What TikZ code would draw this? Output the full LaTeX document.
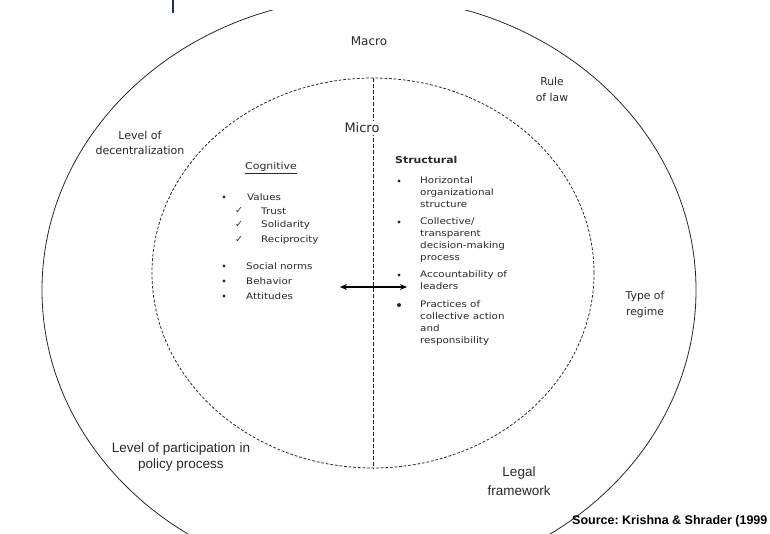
\documentclass[tikz,border=0pt]{standalone}
\usepackage{fontspec}
\setmainfont{Liberation Sans}
\newfontfamily\dvs{DejaVu Sans}
\newfontfamily\dvw[FakeStretch=1.15]{DejaVu Sans}
\usetikzlibrary{arrows.meta,shapes.geometric}
\definecolor{inkgray}{RGB}{40,40,40}
\definecolor{titleblue}{RGB}{25,50,100}
\frenchspacing

\begin{document}
\begin{tikzpicture}[x=1pt,y=-1pt,
  ring/.style={draw=inkgray,ellipse,inner sep=0pt,line width=0.8pt},
  lbl/.style={font=\dvs\fontsize{10.8}{16}\selectfont,align=center,text=inkgray},
  narrowlbl/.style={font=\fontsize{13.5}{16}\selectfont,align=center,text=inkgray},
  head/.style={font=\dvw\fontsize{9.5}{11}\selectfont,anchor=west,text=inkgray,inner sep=0pt},
  item/.style={font=\dvw\fontsize{9}{12}\selectfont,anchor=west,align=left,text=inkgray,inner sep=0pt},
  multi/.style={item,anchor=north west},
  dot/.style={circle,fill=inkgray,inner sep=0pt,minimum size=3.4pt},
  tick/.style={font=\dvs\fontsize{9.5}{10}\selectfont,text=inkgray,inner sep=0pt},
  dbl/.style={{Stealth[length=7pt,width=6pt]}-{Stealth[length=7pt,width=6pt]},line width=1.3pt,black},
]
\useasboundingbox (0,0) rectangle (770,534);

% title fragment
\draw[titleblue,line width=2.6pt] (173,0) -- (173,13);

% Rings
\begin{scope}
  \clip (0,11) rectangle (770,534);
  \node[ring,minimum width=654pt,minimum height=586pt] (macro) at (369,290) {};
\end{scope}
\node[ring,dashed,dash pattern=on 2.8pt off 1.8pt,minimum width=442pt,minimum height=390pt] (micro) at (373,273) {};
\draw[inkgray,line width=0.6pt,dash pattern=on 4pt off 2pt] (micro.north) -- (micro.south);

% Macro labels
\node[lbl,font=\dvs\fontsize{12}{14}\selectfont] (macrot) at (369,41) {Macro};
\node[lbl] (rule)  at (552,89)  {Rule\\of law};
\node[lbl,font=\dvs\fontsize{11}{15}\selectfont] (decen) at (140,143) {Level of\\decentralization};
\node[lbl] (regim) at (645,305) {Type of\\regime};
\node[narrowlbl] (partic) at (181,457) {Level of participation in\\policy process};
\node[narrowlbl,font=\fontsize{13.5}{19}\selectfont] (legal) at (519,481) {Legal\\framework};
\node[anchor=west,inner sep=0pt,font=\bfseries\fontsize{12.5}{14}\selectfont] (src) at (572,521)
  {Source: Krishna \& Shrader (1999};

% Micro
\node[lbl,font=\dvs\fontsize{13}{15}\selectfont,fill=white,inner sep=2pt] (microt) at (362,128) {Micro};

% Cognitive
\node[head] (cog) at (245,168) {\underline{Cognitive}};
\node[dot] (c1) at (224,197) {};
\node[item] (val) at (247,197) {Values};
\node[tick] (k1) at (239,211) {✓};
\node[tick] (k2) at (239,225) {✓};
\node[tick] (k3) at (239,240) {✓};
\node[item] (tru) at (261,211) {Trust};
\node[item] (sol) at (261,225) {Solidarity};
\node[item] (rec) at (261,240) {Reciprocity};
\node[dot] (c2) at (224,266) {};
\node[dot] (c3) at (224,281) {};
\node[dot] (c4) at (224,296) {};
\node[item] (nor) at (246,266) {Social norms};
\node[item] (beh) at (246,281) {Behavior};
\node[item] (att) at (246,296) {Attitudes};

% Structural
\node[head,font=\dvw\bfseries\fontsize{9.5}{11}\selectfont] (str) at (395,160) {Structural};
\node[dot] (s1) at (399,181) {};
\node[dot] (s2) at (399,222) {};
\node[dot] (s3) at (399,275) {};
\node[dot,minimum size=4pt] (s4) at (399,305) {};
\node[multi] (hor) at (420,176) {Horizontal\\organizational\\structure};
\node[multi] (col) at (420,217) {Collective/\\transparent\\decision-making\\process};
\node[multi] (acc) at (420,270) {Accountability of\\leaders};
\node[multi] (pra) at (420,300) {Practices of\\collective action\\and\\responsibility};

% link
\coordinate (al) at (340,287);
\coordinate (ar) at (407,287);
\draw[dbl] (al) -- (ar);
\end{tikzpicture}
\end{document}
